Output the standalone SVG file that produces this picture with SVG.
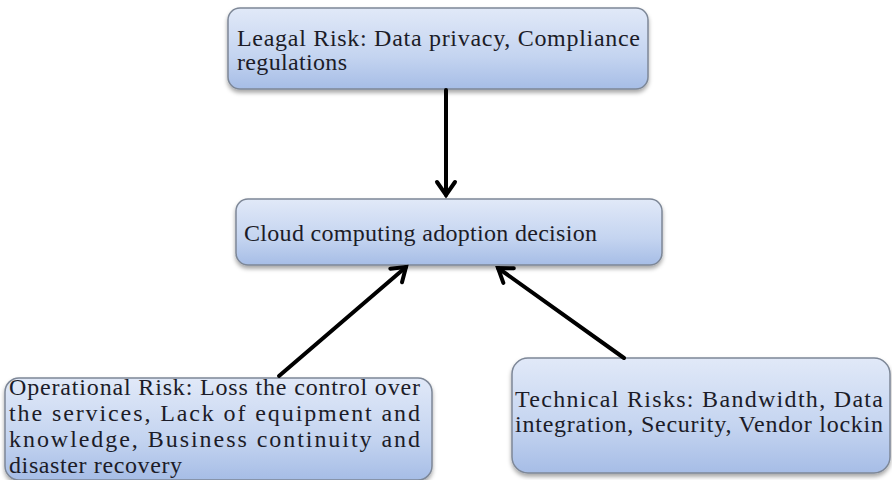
<svg xmlns="http://www.w3.org/2000/svg" width="892" height="480" viewBox="0 0 892 480">
<style>
.box{fill:url(#g);stroke:#7d8797;stroke-width:1.5;filter:url(#sh)}
.t{font-family:"Liberation Serif","Times New Roman",serif;font-size:24px;fill:#1c1c28}
.c{stroke:#000;stroke-width:4;fill:none;stroke-linecap:round}
</style>
<defs>
<linearGradient id="g" x1="0" y1="0" x2="0" y2="1">
<stop offset="0" stop-color="#e1e9f8"/>
<stop offset="0.6" stop-color="#c4d4f0"/>
<stop offset="1" stop-color="#a6bde6"/>
</linearGradient>
<filter id="sh" x="-5%" y="-10%" width="110%" height="130%">
<feDropShadow dx="0" dy="3" stdDeviation="2" flood-color="#000" flood-opacity="0.35"/>
</filter>
<marker id="a" markerUnits="userSpaceOnUse" markerWidth="24" markerHeight="24" refX="17" refY="12" orient="auto">
<path d="M4,3 L17,12 L4,21" fill="none" stroke="#000" stroke-width="4" stroke-linecap="round" stroke-linejoin="miter"/>
</marker>
</defs>
<g id="legal">
<rect class="box" x="228" y="8" width="420" height="81" rx="12"/>
<text class="t" x="237" y="46" textLength="403" lengthAdjust="spacing">Leagal Risk: Data privacy, Compliance</text>
<text class="t" x="237" y="70" textLength="110" lengthAdjust="spacing">regulations</text>
</g>
<g id="decision">
<rect class="box" x="236" y="199" width="426" height="66" rx="12"/>
<text class="t" x="244" y="241" textLength="353" lengthAdjust="spacing">Cloud computing adoption decision</text>
</g>
<g id="operational">
<rect class="box" x="5" y="378" width="427" height="102" rx="14"/>
<text class="t" x="9" y="395" textLength="411" lengthAdjust="spacing">Operational Risk: Loss the control over</text>
<text class="t" x="9" y="421" textLength="411" lengthAdjust="spacing">the services, Lack of equipment and</text>
<text class="t" x="9" y="447" textLength="411" lengthAdjust="spacing">knowledge, Business continuity and</text>
<text class="t" x="9" y="473" textLength="173" lengthAdjust="spacing">disaster recovery</text>
</g>
<g id="technical">
<rect class="box" x="512" y="358" width="378" height="115" rx="16"/>
<text class="t" x="515" y="407" textLength="368" lengthAdjust="spacing">Technical Risks: Bandwidth, Data</text>
<text class="t" x="515" y="432" textLength="368" lengthAdjust="spacing">integration, Security, Vendor lockin</text>
</g>
<g id="connectors">
<line class="c" x1="446" y1="90" x2="446" y2="195" marker-end="url(#a)"/>
<line class="c" x1="279" y1="376" x2="406" y2="267" marker-end="url(#a)"/>
<line class="c" x1="624" y1="358" x2="498" y2="268" marker-end="url(#a)"/>
</g>
</svg>
